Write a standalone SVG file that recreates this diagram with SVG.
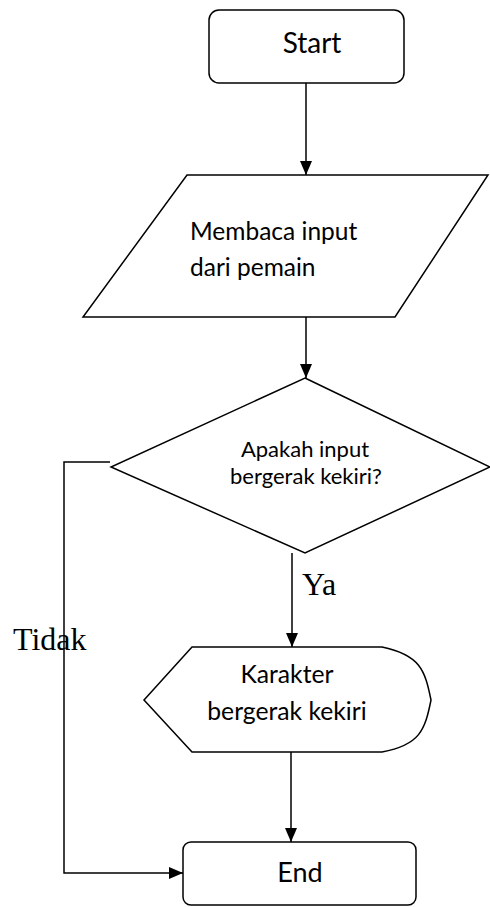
<svg xmlns="http://www.w3.org/2000/svg" width="490" height="907" viewBox="0 0 490 907">
  <defs>
    <marker id="arrow" viewBox="0 0 14 12" refX="14" refY="6" markerWidth="14" markerHeight="12" markerUnits="userSpaceOnUse" orient="auto">
      <path d="M0,0 L14,6 L0,12 Z" fill="#000"/>
    </marker>
  </defs>
  <style>
    .shape { fill: #fff; stroke: #000; stroke-width: 1.5; }
    .line { fill: none; stroke: #000; stroke-width: 1.5; }
    .sans { font-family: Lato, "Open Sans", "Liberation Sans", sans-serif; fill: #000; }
    .serif { font-family: "Liberation Serif", "Times New Roman", serif; fill: #000; }
  </style>
  <rect width="490" height="907" fill="#fff"/>

  <!-- connectors -->
  <g id="connectors">
    <path class="line" d="M306,83 L306,175" marker-end="url(#arrow)"/>
    <path class="line" d="M306,317 L306,378" marker-end="url(#arrow)"/>
    <path class="line" d="M292,553 L292,647" marker-end="url(#arrow)"/>
    <path class="line" d="M291,752 L291,842" marker-end="url(#arrow)"/>
    <path class="line" d="M110,462 L64,462 L64,873 L183,873" marker-end="url(#arrow)"/>
    <text class="serif" x="302" y="595" font-size="32">Ya</text>
    <text class="serif" x="13" y="650" font-size="32">Tidak</text>
  </g>

  <!-- terminal: Start -->
  <g id="start">
    <rect class="shape" x="209" y="10" width="195" height="73" rx="10"/>
    <text class="sans" x="312" y="53" font-size="28" text-anchor="middle">Start</text>
  </g>

  <!-- input: read player input -->
  <g id="input">
    <polygon class="shape" points="187,175 488,175 395,317 83,317"/>
    <text class="sans" x="190" y="240" font-size="24.5">Membaca input</text>
    <text class="sans" x="190" y="276" font-size="24.5">dari pemain</text>
  </g>

  <!-- decision -->
  <g id="decision">
    <polygon class="shape" points="305,378 490,467 305,553 111,467"/>
    <text class="sans" x="305" y="457" font-size="22" text-anchor="middle">Apakah input</text>
    <text class="sans" x="306" y="484" font-size="22" text-anchor="middle">bergerak kekiri?</text>
  </g>

  <!-- display: character moves left -->
  <g id="display">
    <path class="shape" d="M192,647 L382,647 C420,655 425,670 431,700 C425,730 420,745 382,752 L192,752 L144,700 Z"/>
    <text class="sans" x="287" y="683" font-size="24.7" text-anchor="middle">Karakter</text>
    <text class="sans" x="287" y="720" font-size="24.7" text-anchor="middle">bergerak kekiri</text>
  </g>

  <!-- terminal: End -->
  <g id="end">
    <rect class="shape" x="183" y="842" width="233" height="63" rx="8"/>
    <text class="sans" x="300" y="882" font-size="27" text-anchor="middle">End</text>
  </g>
</svg>
